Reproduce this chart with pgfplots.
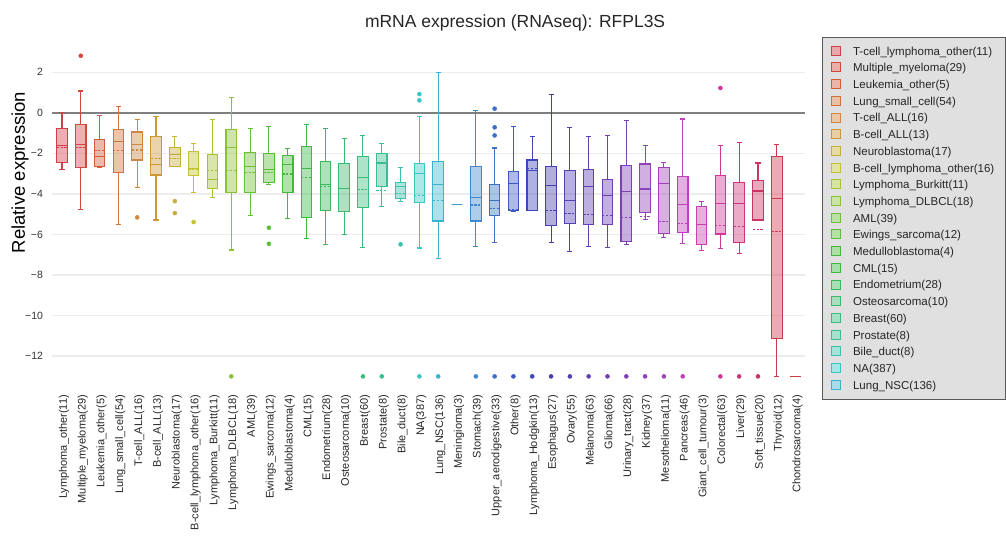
\documentclass[border=0pt]{standalone}
\usepackage{fontspec}
\setmainfont{Liberation Sans}
\usepackage{pgfplots}
\pgfplotsset{compat=1.18}
\usepgfplotslibrary{statistics}
\newcommand\mkc[4]{\definecolor{tmpc}{Hsb}{#2,#3,#4}\colorlet{#1}[rgb]{tmpc}}
\mkc{c1}{355}{0.70}{0.82}
\mkc{c2}{4}{0.70}{0.82}
\mkc{c3}{13}{0.72}{0.82}
\mkc{c4}{22}{0.72}{0.82}
\mkc{c5}{30}{0.72}{0.82}
\mkc{c6}{39}{0.74}{0.80}
\mkc{c7}{50}{0.74}{0.78}
\mkc{c8}{60}{0.74}{0.76}
\mkc{c9}{72}{0.74}{0.76}
\mkc{c10}{83}{0.74}{0.76}
\mkc{c11}{95}{0.72}{0.74}
\mkc{c12}{105}{0.70}{0.74}
\mkc{c13}{115}{0.68}{0.72}
\mkc{c14}{125}{0.68}{0.72}
\mkc{c15}{135}{0.68}{0.72}
\mkc{c16}{144}{0.68}{0.72}
\mkc{c17}{152}{0.70}{0.74}
\mkc{c18}{160}{0.70}{0.74}
\mkc{c19}{170}{0.70}{0.76}
\mkc{c20}{180}{0.72}{0.78}
\mkc{c21}{190}{0.72}{0.80}
\mkc{c22}{199}{0.72}{0.80}
\mkc{c23}{208}{0.70}{0.80}
\mkc{c24}{218}{0.70}{0.78}
\mkc{c25}{228}{0.68}{0.76}
\mkc{c26}{236}{0.66}{0.72}
\mkc{c27}{244}{0.66}{0.70}
\mkc{c28}{250}{0.64}{0.70}
\mkc{c29}{256}{0.64}{0.70}
\mkc{c30}{264}{0.64}{0.70}
\mkc{c31}{272}{0.64}{0.70}
\mkc{c32}{280}{0.64}{0.72}
\mkc{c33}{288}{0.64}{0.72}
\mkc{c34}{300}{0.66}{0.74}
\mkc{c35}{312}{0.68}{0.78}
\mkc{c36}{322}{0.72}{0.80}
\mkc{c37}{332}{0.74}{0.80}
\mkc{c38}{342}{0.74}{0.80}
\mkc{c39}{352}{0.72}{0.80}
\mkc{c40}{358}{0.72}{0.80}
\pgfplotsset{
  bx/.style={
    draw=#1, solid, line width=1.1pt, mark=none,
    boxplot/every box/.style={fill=#1, fill opacity=0.42},
    legend image code/.code={%
      \draw[draw=#1, fill=#1!45, line width=0.8pt] (3pt,-3pt) rectangle (12pt,6pt);
      \path (22pt,0pt);}
  },
  ol/.style={only marks, mark=*, mark size=2pt, color=#1, mark options={solid, fill=#1, draw=#1, line width=0.5pt}, forget plot},
}
\begin{document}
\begin{tikzpicture}
\begin{axis}[
  scale only axis,
  width=753pt, height=338.7pt,
  xmin=0.47, xmax=40.5,
  ymin=-13.4, ymax=3.3,
  axis line style={draw=none},
  tick style={draw=none},
  major tick length=0pt,
  ymajorgrids=true,
  major grid style={draw=black!7, line width=1.3pt},
  ytick={-12,-10,-8,-6,-4,-2,2},
  yticklabels={−12,−10,−8,−6,−4,−2,2},
  extra y ticks={0},
  extra y tick labels={0},
  extra y tick style={major grid style={draw=black!50, line width=1.6pt}},
  yticklabel style={font=\fontsize{10.5}{12}\selectfont, text=black!80, xshift=-5.5pt},
  xtick={1,...,40},
  xticklabels={{Lymphoma\_other(11)},{Multiple\_myeloma(29)},{Leukemia\_other(5)},{Lung\_small\_cell(54)},{T-cell\_ALL(16)},{B-cell\_ALL(13)},{Neuroblastoma(17)},{B-cell\_lymphoma\_other(16)},{Lymphoma\_Burkitt(11)},{Lymphoma\_DLBCL(18)},{AML(39)},{Ewings\_sarcoma(12)},{Medulloblastoma(4)},{CML(15)},{Endometrium(28)},{Osteosarcoma(10)},{Breast(60)},{Prostate(8)},{Bile\_duct(8)},{NA(387)},{Lung\_NSC(136)},{Meningioma(3)},{Stomach(39)},{Upper\_aerodigestive(33)},{Other(8)},{Lymphoma\_Hodgkin(13)},{Esophagus(27)},{Ovary(55)},{Melanoma(63)},{Glioma(66)},{Urinary\_tract(28)},{Kidney(37)},{Mesothelioma(11)},{Pancreas(46)},{Giant\_cell\_tumour(3)},{Colorectal(63)},{Liver(29)},{Soft\_tissue(20)},{Thyroid(12)},{Chondrosarcoma(4)}},
  xticklabel style={rotate=90, anchor=east, font=\fontsize{11}{12}\selectfont, text=black!85, xshift=-7pt, yshift=-2pt},
  title={mRNA expression (RNAseq): RFPL3S},
  title style={at={(axis description cs:0.615,1)}, anchor=base, yshift=12.8pt, font=\fontsize{17.5}{20}\selectfont, text=black!85},
  ylabel={Relative expression},
  every axis y label/.style={at={(axis description cs:-0.0425,0.626)}, rotate=90, anchor=center, font=\fontsize{18.5}{21}\selectfont},
  boxplot/draw direction=y,
  boxplot/box extend=0.56,
  boxplot/whisker extend=0.27,
  boxplot/every average/.style={dash pattern=on 2.2pt off 1.6pt},
  boxplot/draw/average/.code={\draw[/pgfplots/boxplot/every average/.try] (boxplot box cs:\pgfplotsboxplotvalue{average},0) -- (boxplot box cs:\pgfplotsboxplotvalue{average},1);},
  legend cell align=left,
  legend style={at={(axis description cs:1.0222,1.025)}, anchor=north west,
    fill=black!12, draw=black!65, line width=0.8pt,
    font=\fontsize{11.5}{13}\selectfont, text=black!85,
    row sep=4.8pt, inner xsep=9pt, inner ysep=8pt,
    nodes={inner ysep=0pt, text height=8.5pt, text depth=2.5pt}},
]
% 1
\addplot[bx=c1, boxplot prepared={draw position=1, lower whisker=-2.79, lower quartile=-2.47, median=-1.62, upper quartile=-0.79, upper whisker=0.0, average=-1.72}] coordinates {};
\addlegendentry{T-cell\_lymphoma\_other(11)}
% 2
\addplot[bx=c2, boxplot prepared={draw position=2, lower whisker=-4.75, lower quartile=-2.71, median=-1.55, upper quartile=-0.59, upper whisker=1.07, average=-1.70}] coordinates {};
\addlegendentry{Multiple\_myeloma(29)}
% 3
\addplot[bx=c3, boxplot prepared={draw position=3, lower whisker=-2.71, lower quartile=-2.66, median=-2.17, upper quartile=-1.32, upper whisker=-0.13, average=-1.87}] coordinates {};
\addlegendentry{Leukemia\_other(5)}
% 4
\addplot[bx=c4, boxplot prepared={draw position=4, lower whisker=-5.51, lower quartile=-2.93, median=-1.43, upper quartile=-0.84, upper whisker=0.31, average=-1.87}] coordinates {};
\addlegendentry{Lung\_small\_cell(54)}
% 5
\addplot[bx=c5, boxplot prepared={draw position=5, lower whisker=-3.70, lower quartile=-2.33, median=-1.58, upper quartile=-0.95, upper whisker=-0.35, average=-1.84}] coordinates {};
\addlegendentry{T-cell\_ALL(16)}
% 6
\addplot[bx=c6, boxplot prepared={draw position=6, lower whisker=-5.29, lower quartile=-3.07, median=-2.55, upper quartile=-1.15, upper whisker=-0.20, average=-2.25}] coordinates {};
\addlegendentry{B-cell\_ALL(13)}
% 7
\addplot[bx=c7, boxplot prepared={draw position=7, lower whisker=-2.67, lower quartile=-2.63, median=-2.04, upper quartile=-1.73, upper whisker=-1.15, average=-2.25}] coordinates {};
\addlegendentry{Neuroblastoma(17)}
% 8
\addplot[bx=c8, boxplot prepared={draw position=8, lower whisker=-3.95, lower quartile=-3.11, median=-2.75, upper quartile=-1.89, upper whisker=-1.50, average=-2.78}] coordinates {};
\addlegendentry{B-cell\_lymphoma\_other(16)}
% 9
\addplot[bx=c9, boxplot prepared={draw position=9, lower whisker=-4.18, lower quartile=-3.73, median=-3.27, upper quartile=-2.07, upper whisker=-0.35, average=-2.86}] coordinates {};
\addlegendentry{Lymphoma\_Burkitt(11)}
% 10
\addplot[bx=c10, boxplot prepared={draw position=10, lower whisker=-6.77, lower quartile=-3.93, median=-1.71, upper quartile=-0.81, upper whisker=0.74, average=-2.86}] coordinates {};
\addlegendentry{Lymphoma\_DLBCL(18)}
% 11
\addplot[bx=c11, boxplot prepared={draw position=11, lower whisker=-5.08, lower quartile=-3.93, median=-2.63, upper quartile=-1.97, upper whisker=-0.79, average=-2.94}] coordinates {};
\addlegendentry{AML(39)}
% 12
\addplot[bx=c12, boxplot prepared={draw position=12, lower whisker=-3.52, lower quartile=-3.45, median=-2.78, upper quartile=-2.02, upper whisker=-0.66, average=-2.96}] coordinates {};
\addlegendentry{Ewings\_sarcoma(12)}
% 13
\addplot[bx=c13, boxplot prepared={draw position=13, lower whisker=-5.21, lower quartile=-3.95, median=-2.55, upper quartile=-2.12, upper whisker=-1.76, average=-3.02}] coordinates {};
\addlegendentry{Medulloblastoma(4)}
% 14
\addplot[bx=c14, boxplot prepared={draw position=14, lower whisker=-6.20, lower quartile=-5.16, median=-2.76, upper quartile=-1.68, upper whisker=-0.58, average=-3.19}] coordinates {};
\addlegendentry{CML(15)}
% 15
\addplot[bx=c15, boxplot prepared={draw position=15, lower whisker=-6.51, lower quartile=-4.83, median=-3.52, upper quartile=-2.42, upper whisker=-0.77, average=-3.62}] coordinates {};
\addlegendentry{Endometrium(28)}
% 16
\addplot[bx=c16, boxplot prepared={draw position=16, lower whisker=-6.02, lower quartile=-4.88, median=-3.73, upper quartile=-2.50, upper whisker=-1.28, average=-3.75}] coordinates {};
\addlegendentry{Osteosarcoma(10)}
% 17
\addplot[bx=c17, boxplot prepared={draw position=17, lower whisker=-6.64, lower quartile=-4.67, median=-3.19, upper quartile=-2.17, upper whisker=-1.12, average=-3.80}] coordinates {};
\addlegendentry{Breast(60)}
% 18
\addplot[bx=c18, boxplot prepared={draw position=18, lower whisker=-4.64, lower quartile=-3.62, median=-2.48, upper quartile=-1.99, upper whisker=-1.51, average=-3.83}] coordinates {};
\addlegendentry{Prostate(8)}
% 19
\addplot[bx=c19, boxplot prepared={draw position=19, lower whisker=-4.39, lower quartile=-4.22, median=-3.65, upper quartile=-3.42, upper whisker=-2.68, average=-3.98}] coordinates {};
\addlegendentry{Bile\_duct(8)}
% 20
\addplot[bx=c20, boxplot prepared={draw position=20, lower whisker=-6.67, lower quartile=-4.44, median=-2.99, upper quartile=-2.50, upper whisker=-0.18, average=-4.09}] coordinates {};
\addlegendentry{NA(387)}
% 21
\addplot[bx=c21, boxplot prepared={draw position=21, lower whisker=-7.20, lower quartile=-5.34, median=-3.55, upper quartile=-2.42, upper whisker=1.99, average=-4.31}] coordinates {};
\addlegendentry{Lung\_NSC(136)}
% 22
\addplot[bx=c22, forget plot, boxplot prepared={draw position=22, lower whisker=-4.54, lower quartile=-4.54, median=-4.54, upper quartile=-4.54, upper whisker=-4.54, average=-4.54}] coordinates {};
% 23
\addplot[bx=c23, forget plot, boxplot prepared={draw position=23, lower whisker=-6.59, lower quartile=-5.34, median=-4.19, upper quartile=-2.65, upper whisker=0.10, average=-4.55}] coordinates {};
% 24
\addplot[bx=c24, forget plot, boxplot prepared={draw position=24, lower whisker=-6.38, lower quartile=-5.08, median=-4.34, upper quartile=-3.52, upper whisker=-1.74, average=-4.70}] coordinates {};
% 25
\addplot[bx=c25, forget plot, boxplot prepared={draw position=25, lower whisker=-4.85, lower quartile=-4.83, median=-3.49, upper quartile=-2.91, upper whisker=-0.66, average=-4.78}] coordinates {};
% 26
\addplot[bx=c26, forget plot, boxplot prepared={draw position=26, lower whisker=-4.82, lower quartile=-4.80, median=-2.83, upper quartile=-2.33, upper whisker=-1.18, average=-2.75}] coordinates {};
% 27
\addplot[bx=c27, forget plot, boxplot prepared={draw position=27, lower whisker=-6.38, lower quartile=-5.56, median=-3.60, upper quartile=-2.65, upper whisker=0.92, average=-4.83}] coordinates {};
% 28
\addplot[bx=c28, forget plot, boxplot prepared={draw position=28, lower whisker=-6.84, lower quartile=-5.46, median=-4.31, upper quartile=-2.84, upper whisker=-0.74, average=-4.95}] coordinates {};
% 29
\addplot[bx=c29, forget plot, boxplot prepared={draw position=29, lower whisker=-6.61, lower quartile=-5.49, median=-3.65, upper quartile=-2.78, upper whisker=-1.18, average=-5.00}] coordinates {};
% 30
\addplot[bx=c30, forget plot, boxplot prepared={draw position=30, lower whisker=-6.64, lower quartile=-5.49, median=-4.08, upper quartile=-3.27, upper whisker=-1.13, average=-5.06}] coordinates {};
% 31
\addplot[bx=c31, forget plot, boxplot prepared={draw position=31, lower whisker=-6.49, lower quartile=-6.36, median=-3.88, upper quartile=-2.60, upper whisker=-0.39, average=-5.16}] coordinates {};
% 32
\addplot[bx=c32, forget plot, boxplot prepared={draw position=32, lower whisker=-5.26, lower quartile=-4.93, median=-3.76, upper quartile=-2.53, upper whisker=-1.63, average=-5.10}] coordinates {};
% 33
\addplot[bx=c33, forget plot, boxplot prepared={draw position=33, lower whisker=-6.16, lower quartile=-5.95, median=-3.50, upper quartile=-2.70, upper whisker=-2.45, average=-5.38}] coordinates {};
% 34
\addplot[bx=c34, forget plot, boxplot prepared={draw position=34, lower whisker=-6.43, lower quartile=-5.90, median=-4.52, upper quartile=-3.16, upper whisker=-0.31, average=-5.46}] coordinates {};
% 35
\addplot[bx=c35, forget plot, boxplot prepared={draw position=35, lower whisker=-6.81, lower quartile=-6.48, median=-5.51, upper quartile=-4.64, upper whisker=-4.36, average=-5.51}] coordinates {};
% 36
\addplot[bx=c36, forget plot, boxplot prepared={draw position=36, lower whisker=-6.69, lower quartile=-5.98, median=-4.47, upper quartile=-3.11, upper whisker=-1.61, average=-5.54}] coordinates {};
% 37
\addplot[bx=c37, forget plot, boxplot prepared={draw position=37, lower whisker=-6.94, lower quartile=-6.38, median=-4.46, upper quartile=-3.42, upper whisker=-1.46, average=-5.62}] coordinates {};
% 38
\addplot[bx=c38, forget plot, boxplot prepared={draw position=38, lower whisker=-5.29, lower quartile=-5.29, median=-3.86, upper quartile=-3.32, upper whisker=-2.48, average=-5.75}] coordinates {};
% 39
\addplot[bx=c39, forget plot, boxplot prepared={draw position=39, lower whisker=-13.0, lower quartile=-11.13, median=-4.21, upper quartile=-2.17, upper whisker=-1.56, average=-5.84}] coordinates {};
% 40
\addplot[bx=c40, forget plot, boxplot prepared={draw position=40, lower whisker=-13.0, lower quartile=-13.0, median=-13.0, upper quartile=-13.0, upper whisker=-13.0, average=-13.0}] coordinates {};
% outliers and non-detected values
\addplot[ol=c2] coordinates {(2,2.81)};
\addplot[ol=c5] coordinates {(5,-5.16)};
\addplot[ol=c7] coordinates {(7,-4.36) (7,-4.95)};
\addplot[ol=c8] coordinates {(8,-5.39)};
\addplot[ol=c10] coordinates {(10,-13)};
\addplot[ol=c12] coordinates {(12,-5.67) (12,-6.46)};
\addplot[ol=c17] coordinates {(17,-13)};
\addplot[ol=c18] coordinates {(18,-13)};
\addplot[ol=c19] coordinates {(19,-6.49)};
\addplot[ol=c20] coordinates {(20,0.92) (20,0.61) (20,-13)};
\addplot[ol=c21] coordinates {(21,-13)};
\addplot[ol=c23] coordinates {(23,-13)};
\addplot[ol=c24] coordinates {(24,0.20) (24,-0.72) (24,-1.12) (24,-13)};
\addplot[ol=c25] coordinates {(25,-13)};
\addplot[ol=c26] coordinates {(26,-13)};
\addplot[ol=c27] coordinates {(27,-13)};
\addplot[ol=c28] coordinates {(28,-13)};
\addplot[ol=c29] coordinates {(29,-13)};
\addplot[ol=c30] coordinates {(30,-13)};
\addplot[ol=c31] coordinates {(31,-13)};
\addplot[ol=c32] coordinates {(32,-13)};
\addplot[ol=c33] coordinates {(33,-13)};
\addplot[ol=c34] coordinates {(34,-13)};
\addplot[ol=c36] coordinates {(36,1.22) (36,-13)};
\addplot[ol=c37] coordinates {(37,-13)};
\addplot[ol=c38] coordinates {(38,-13)};
\end{axis}
\pgfresetboundingbox
\path[use as bounding box] (-52pt,-159.5pt) rectangle (954pt,384.5pt);
\end{tikzpicture}
\end{document}
